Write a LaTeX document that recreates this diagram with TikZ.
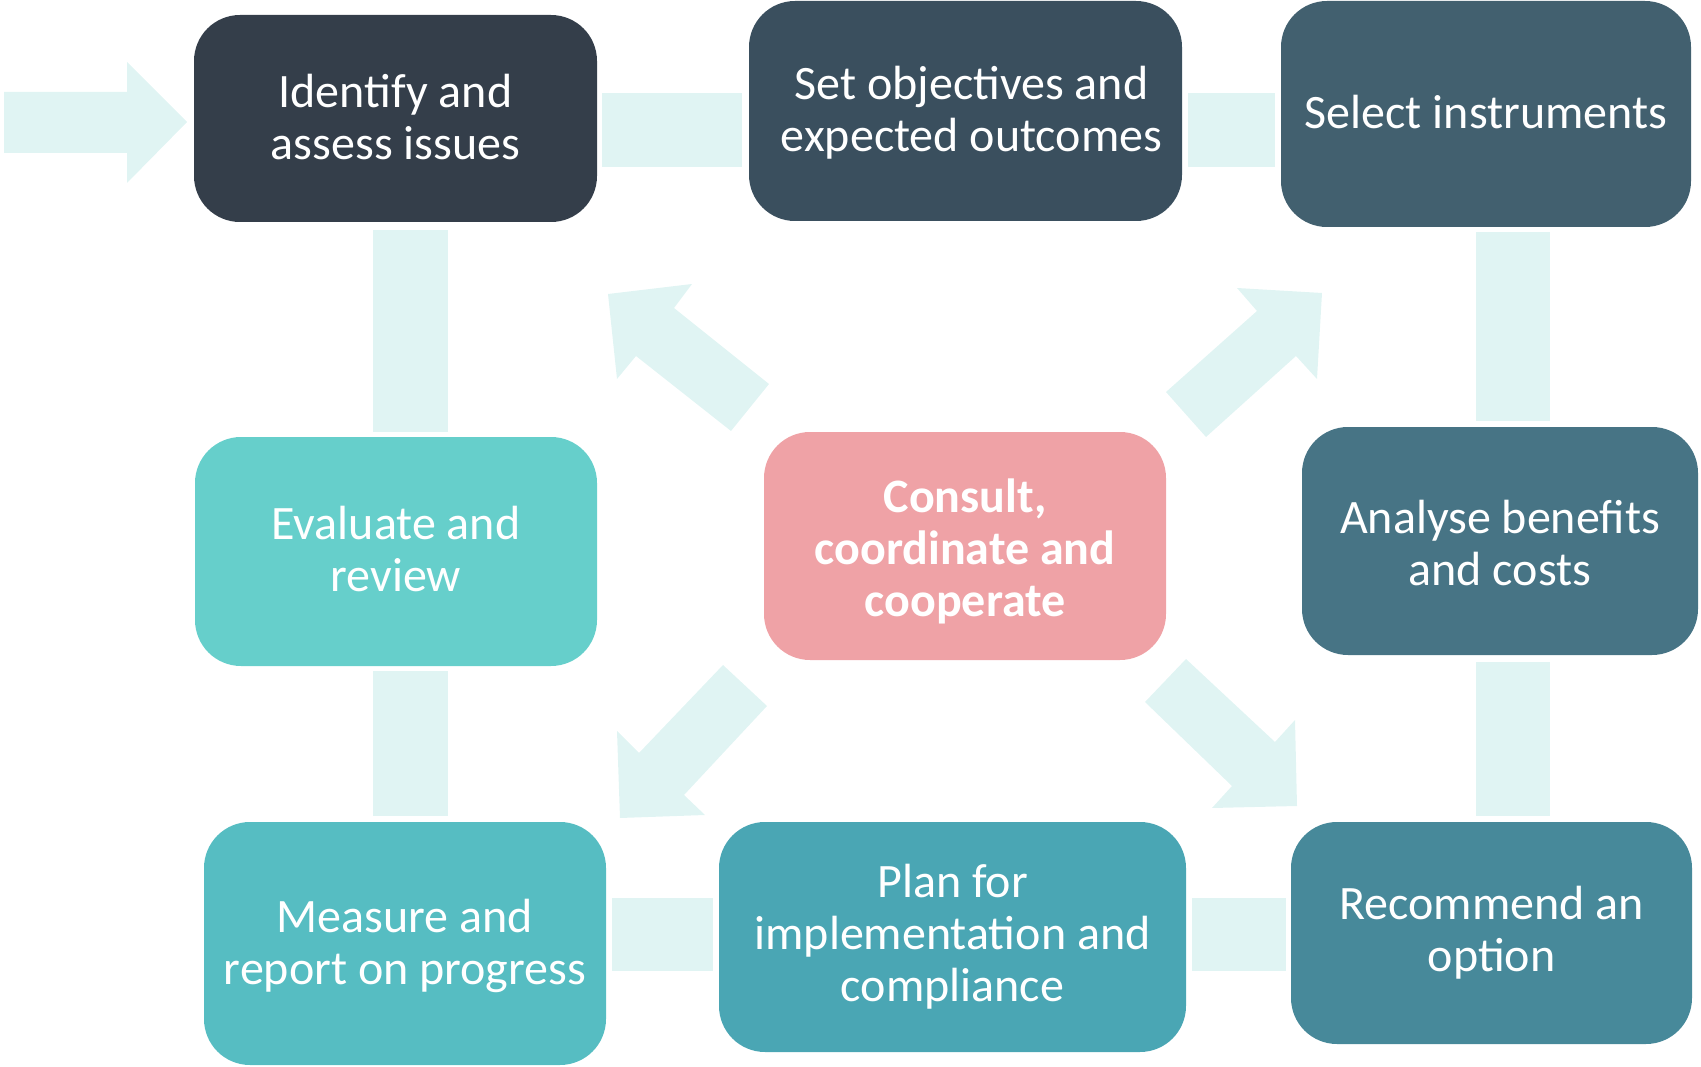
\documentclass[tikz,border=0pt]{standalone}
\usepackage{fontspec}
\setmainfont{Carlito}
\definecolor{lightc}{HTML}{E0F4F3}
\definecolor{cA}{HTML}{343E4A}
\definecolor{cB}{HTML}{3A4F5E}
\definecolor{cC}{HTML}{42606F}
\definecolor{cD}{HTML}{477485}
\definecolor{cE}{HTML}{47899A}
\definecolor{cF}{HTML}{4AA6B4}
\definecolor{cG}{HTML}{56BDC2}
\definecolor{cH}{HTML}{66CFCB}
\definecolor{cI}{HTML}{EFA2A6}
\tikzset{
  stepbox/.style={rectangle, rounded corners=46pt, inner sep=0pt},
  lbl/.style={inner sep=0pt, text=white, align=center, font=\fontsize{48}{52}\selectfont},
  bar/.style={fill=lightc}
}
\begin{document}
\begin{tikzpicture}[x=1pt,y=-1pt]
\useasboundingbox (0,0) rectangle (1701,1067);
% bars and arrows
\fill[bar] (4,92) -- (127,92) -- (127,62) -- (187,122) -- (127,183) -- (127,153) -- (4,153) -- cycle;
\fill[bar] (602,93) rectangle (742,167);
\fill[bar] (1188,93) rectangle (1275,167);
\fill[bar] (1476,232) rectangle (1550,421);
\fill[bar] (1476,662) rectangle (1550,816);
\fill[bar] (1192,898) rectangle (1286,971);
\fill[bar] (612,898) rectangle (713,971);
\fill[bar] (373,671) rectangle (448,816);
\fill[bar] (373,230) rectangle (448,432);
% diagonal arrows
\fill[bar] (608,294) -- (692,284) -- (674,308) -- (769,384) -- (731,431) -- (636,356) -- (617,379) -- cycle;
\fill[bar] (1237,288) -- (1322,293) -- (1317,379) -- (1296,356) -- (1206,437) -- (1166,392) -- (1257,311) -- cycle;
\fill[bar] (723,665) -- (767,706) -- (684,795) -- (705,815) -- (620,818) -- (617,731) -- (639,753) -- cycle;
\fill[bar] (1186,659) -- (1145,702) -- (1232,786) -- (1212,808) -- (1297,806) -- (1295,720) -- (1275,742) -- cycle;
% boxes
\node[stepbox, fill=cA, minimum width=403pt, minimum height=207pt,
  label={[lbl, yshift=1pt]center:{Identify and\\assess issues}}] (iden) at (395.5,118.5) {};
\node[stepbox, fill=cB, minimum width=433pt, minimum height=220pt,
  label={[lbl, yshift=-2pt, xshift=6pt]center:{Set objectives and\\expected outcomes}}] (setob) at (965.5,111) {};
\node[stepbox, fill=cC, minimum width=410pt, minimum height=226pt,
  label={[lbl, yshift=2pt]center:{Select instruments}}] (selin) at (1486,114) {};
\node[stepbox, fill=cD, minimum width=396pt, minimum height=228pt,
  label={[lbl, yshift=-2pt]center:{Analyse benefits\\and costs}}] (anal) at (1500,541) {};
\node[stepbox, fill=cE, minimum width=401pt, minimum height=222pt,
  label={[lbl]center:{Recommend an\\option}}] (reco) at (1491.5,933) {};
\node[stepbox, fill=cF, minimum width=467pt, minimum height=230pt,
  label={[lbl]center:{Plan for\\implementation and\\compliance}}] (plan) at (952.5,937) {};
\node[stepbox, fill=cG, minimum width=402pt, minimum height=243pt,
  label={[lbl, yshift=-2pt]center:{Measure and\\report on progress}}] (meas) at (405,943.5) {};
\node[stepbox, fill=cH, minimum width=402pt, minimum height=229pt,
  label={[lbl, yshift=3pt]center:{Evaluate and\\review}}] (eval) at (396,551.5) {};
\node[stepbox, fill=cI, minimum width=402pt, minimum height=228pt,
  label={[lbl, font=\fontsize{48}{52}\selectfont\bfseries, yshift=-5pt]center:{Consult,\\coordinate and\\cooperate}}] (cons) at (965,546) {};
\end{tikzpicture}
\end{document}
